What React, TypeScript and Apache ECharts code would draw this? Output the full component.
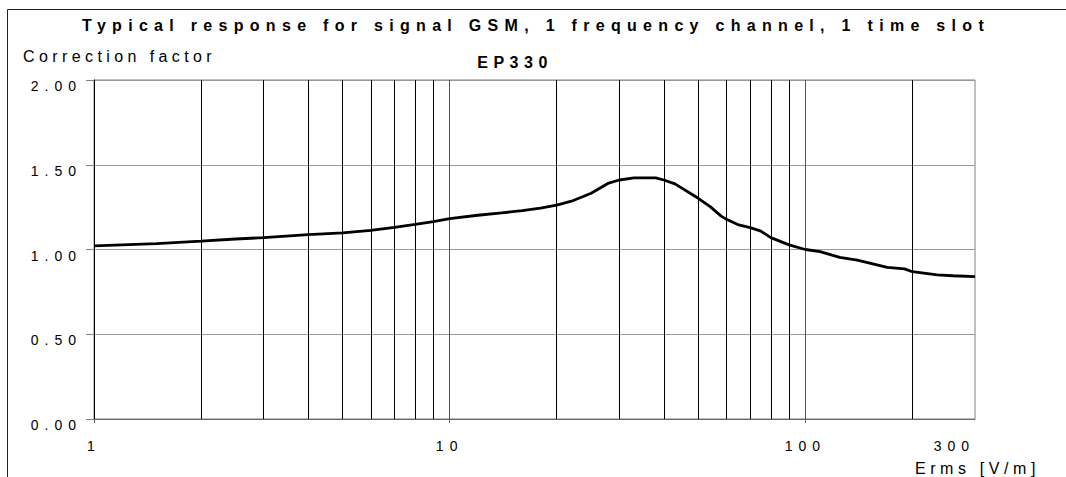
import React, { useEffect, useRef } from "react";
import * as echarts from "echarts";

// ---- data ----
const titleText = "Typical response for signal GSM, 1 frequency channel, 1 time slot";
const subTitleText = "EP330";
const yAxisName = "Correction factor";
const xAxisName = "Erms [V/m]";

const fieldStrength = [
  1, 1.5, 2, 2.5, 3, 4, 5, 6, 7, 8, 9, 10, 12, 14, 16, 18, 20, 22, 25, 28, 30, 33, 38,
  40, 43, 50, 54, 58, 60, 65, 70, 75, 80, 90, 100, 110, 125, 140, 170, 190, 200, 235, 260, 300,
];
const correctionFactor = [
  1.021, 1.035, 1.05, 1.062, 1.07, 1.088, 1.098, 1.113, 1.13, 1.148, 1.165, 1.182, 1.202,
  1.216, 1.229, 1.244, 1.262, 1.285, 1.332, 1.392, 1.41, 1.422, 1.422, 1.41, 1.387, 1.302,
  1.253, 1.197, 1.178, 1.145, 1.129, 1.108, 1.07, 1.027, 1.0, 0.987, 0.954, 0.937, 0.895,
  0.886, 0.869, 0.85, 0.845, 0.84,
];
const xLabelValues = [1, 10, 100, 300];
const xMajorValues = [1, 10, 100];
const xMinorValues = [2, 3, 4, 5, 6, 7, 8, 9, 20, 30, 40, 50, 60, 70, 80, 90, 200];
const yMin = 0;
const yMax = 2;
const yStep = 0.5;

const fam = (spacing: number) =>
  `Liberation Sans, Arial, sans-serif; letter-spacing: ${spacing}px`;

export default function App() {
  const ref = useRef<HTMLDivElement>(null);
  useEffect(() => {
    if (!ref.current) return;
    const chart = echarts.init(ref.current, undefined, { renderer: "svg" });
    const seriesData = fieldStrength.map((x, i) => [x, correctionFactor[i]]);
    chart.setOption({
      animation: false,
      backgroundColor: "#ffffff",
      title: [
        {
          text: titleText,
          left: 536,
          top: 25,
          padding: 0,
          textAlign: "center",
          textVerticalAlign: "middle",
          textStyle: {
            fontFamily: fam(6.3),
            fontSize: 16,
            fontWeight: "bold",
            color: "#000",
            lineHeight: 16,
          },
        },
        {
          text: subTitleText,
          left: 515,
          top: 62.5,
          padding: 0,
          textAlign: "center",
          textVerticalAlign: "middle",
          textStyle: {
            fontFamily: fam(5.5),
            fontSize: 16,
            fontWeight: "bold",
            color: "#000",
            lineHeight: 16,
          },
        },
      ],
      graphic: [
        {
          type: "rect",
          shape: { x: 7.5, y: 9.5, width: 1200, height: 600 },
          style: { fill: "none", stroke: "#222", lineWidth: 1 },
          silent: true,
        },
      ],
      grid: {
        left: 94,
        right: 91,
        top: 80,
        bottom: 58,
        containLabel: false,
        outerBoundsMode: "none",
        show: true,
        borderColor: "#808080",
        borderWidth: 1,
      },
      xAxis: [
        {
          type: "log",
          logBase: 10,
          min: 1,
          max: 300,
          name: xAxisName,
          nameLocation: "end",
          nameGap: 65,
          nameMoveOverlap: false,
          nameTextStyle: {
            fontFamily: fam(4.6),
            fontSize: 16,
            color: "#000",
            align: "right",
            verticalAlign: "top",
            lineHeight: 98,
          },
          axisLine: { show: true, lineStyle: { color: "#666", width: 1 } },
          axisTick: { show: false, customValues: xMinorValues },
          splitLine: { show: true, lineStyle: { color: "#000", width: 1 } },
          axisLabel: {
            customValues: xLabelValues,
            margin: 20,
            fontSize: 14,
            lineHeight: 14,
            color: "#000",
            fontFamily: fam(6),
            alignMaxLabel: "right",
            formatter: (v: number) => String(Math.round(v)),
          },
        },
        {
          type: "log",
          logBase: 10,
          min: 1,
          max: 300,
          position: "bottom",
          axisLine: { show: false },
          axisLabel: { show: false },
          axisTick: { show: true, customValues: xMajorValues, length: 4, lineStyle: { color: "#666" } },
          splitLine: { show: true, lineStyle: { color: "#555", width: 1 } },
        },
      ],
      yAxis: {
        type: "value",
        min: yMin,
        max: yMax,
        interval: yStep,
        name: yAxisName,
        nameLocation: "end",
        nameGap: 23.5,
        nameMoveOverlap: false,
        nameTextStyle: {
          fontFamily: fam(4.4),
          fontSize: 16,
          color: "#000",
          align: "left",
          verticalAlign: "middle",
          lineHeight: 16,
          padding: [0, 0, 0, -71],
        },
        axisLine: { show: true, lineStyle: { color: "#000", width: 1 } },
        axisTick: { show: true, length: 8, lineStyle: { color: "#808080" } },
        splitLine: { show: true, lineStyle: { color: "#999", width: 1 } },
        axisLabel: {
          margin: 12,
          fontSize: 14,
          lineHeight: 12,
          verticalAlign: "top",
          color: "#000",
          fontFamily: fam(6),
          formatter: (v: number) => v.toFixed(2),
        },
      },
      series: [
        {
          type: "line",
          xAxisIndex: 0,
          data: seriesData,
          symbol: "none",
          smooth: false,
          lineStyle: { color: "#000", width: 2.8 },
        },
      ],
    });
    return () => chart.dispose();
  }, []);
  return (
    <div
      ref={ref}
      style={{ position: "absolute", left: 0, top: 0, width: 1066, height: 477, background: "#fff" }}
    />
  );
}
